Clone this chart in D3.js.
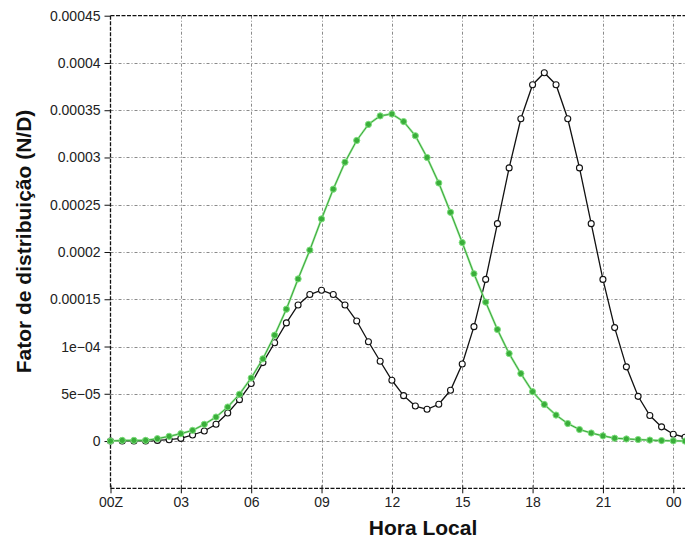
<!DOCTYPE html>
<html lang="pt">
<head>
    <meta charset="UTF-8">
    <title>Fator de distribuição</title>
    <script src="https://d3js.org/d3.v7.min.js"></script>
    <style>
        body { margin: 0; background: #fff; }
        svg { display: block; }
    </style>
</head>
<body>
    <div id="chart-container"></div>

    <script>
        // values in units of 1e-5
        const horas = [0, 0.5, 1, 1.5, 2, 2.5, 3, 3.5, 4, 4.5, 5, 5.5, 6, 6.5, 7, 7.5, 8, 8.5, 9, 9.5,
            10, 10.5, 11, 11.5, 12, 12.5, 13, 13.5, 14, 14.5, 15, 15.5, 16, 16.5, 17, 17.5, 18, 18.5, 19, 19.5,
            20, 20.5, 21, 21.5, 22, 22.5, 23, 23.5, 24, 24.5];
        const serieBranca = [0, 0, 0, 0, 0.07, 0.14, 0.28, 0.64, 1.06, 1.77, 2.97, 4.38, 6.08, 8.3, 10.4, 12.5, 14.4, 15.5, 15.96, 15.5,
            14.4, 12.7, 10.5, 8.44, 6.43, 4.8, 3.7, 3.36, 3.89, 5.37, 8.15, 12.1, 17.1, 23.0, 28.9, 34.1, 37.7, 38.97, 37.7, 34.1,
            28.9, 23.0, 17.1, 12.0, 7.85, 4.73, 2.7, 1.5, 0.72, 0.4];
        const serieVerde = [0, 0.07, 0.07, 0.07, 0.25, 0.5, 0.78, 1.13, 1.77, 2.54, 3.6, 4.95, 6.67, 8.7, 11.2, 13.95, 17.15, 20.2, 23.5, 26.65,
            29.5, 31.8, 33.5, 34.4, 34.6, 33.8, 32.3, 30.0, 27.3, 24.2, 21.0, 17.7, 14.7, 11.8, 9.25, 7.14, 5.22, 3.87, 2.75, 1.85,
            1.22, 0.85, 0.55, 0.3, 0.22, 0.16, 0.1, 0.05, 0.02, 0];
        const xTicks = [0, 3, 6, 9, 12, 15, 18, 21, 24];
        const xTickLabels = ["00Z", "03", "06", "09", "12", "15", "18", "21", "00"];
        const yTicks = [0, 5, 10, 15, 20, 25, 30, 35, 40, 45];
        const yTickLabels = ["0", "5e\u221205", "1e\u221204", "0.00015", "0.0002", "0.00025", "0.0003", "0.00035", "0.0004", "0.00045"];

        const W = 685, H = 544;
        const pl = 110.5, pr = 685, pt = 15.7, pb = 488.3;

        const svg = d3.select("#chart-container")
            .append("svg")
            .attr("width", W)
            .attr("height", H);

        const x = d3.scaleLinear()
            .domain([0, 24.5])
            .range([pl, pr]);

        const y = d3.scaleLinear()
            .domain([-5, 45])
            .range([pb, pt]);

        // grid
        const grid = svg.append("g")
            .attr("stroke", "#8a8a8a")
            .attr("stroke-width", 1)
            .attr("stroke-dasharray", "3,2,1,2");
        grid.selectAll(".vg")
            .data(xTicks.slice(1))
            .enter().append("line")
            .attr("x1", d => Math.round(x(d)) + 0.5)
            .attr("x2", d => Math.round(x(d)) + 0.5)
            .attr("y1", pt)
            .attr("y2", pb);
        grid.selectAll(".hg")
            .data(yTicks.slice(0, -1))
            .enter().append("line")
            .attr("x1", pl)
            .attr("x2", pr)
            .attr("y1", d => Math.round(y(d)) + 0.5)
            .attr("y2", d => Math.round(y(d)) + 0.5);

        // frame (dashed)
        const frame = svg.append("g")
            .attr("stroke", "#111")
            .attr("stroke-width", 1.3)
            .attr("stroke-dasharray", "4,1.5");
        frame.append("line").attr("x1", pl).attr("x2", pl).attr("y1", pt).attr("y2", pb);
        frame.append("line").attr("x1", pl).attr("x2", pr).attr("y1", pb).attr("y2", pb);
        frame.append("line").attr("x1", pl).attr("x2", pr).attr("y1", pt).attr("y2", pt);

        // y axis
        const yAxis = svg.append("g")
            .attr("transform", "translate(" + pl + ",0)")
            .call(d3.axisLeft(y)
                .tickValues(yTicks)
                .tickSize(6)
                .tickPadding(4)
                .tickFormat((d, i) => yTickLabels[i]));
        yAxis.select(".domain").remove();
        yAxis.selectAll("text")
            .style("font-family", "'Liberation Sans', Arial, sans-serif")
            .style("font-size", "14px")
            .attr("fill", "#222");
        yAxis.selectAll("line").attr("stroke", "#111");

        // x axis
        const xAxis = svg.append("g")
            .attr("transform", "translate(0," + pb + ")")
            .call(d3.axisBottom(x)
                .tickValues(xTicks)
                .tickSize(5)
                .tickPadding(4)
                .tickFormat((d, i) => xTickLabels[i]));
        xAxis.select(".domain").remove();
        xAxis.selectAll("text")
            .style("font-family", "'Liberation Sans', Arial, sans-serif")
            .style("font-size", "14px")
            .attr("fill", "#222");
        xAxis.selectAll("line").attr("stroke", "#111").attr("y1", -3);

        // series
        const line = d3.line()
            .x((d, i) => x(horas[i]))
            .y(d => y(d));

        svg.append("path")
            .datum(serieBranca)
            .attr("fill", "none")
            .attr("stroke", "#111")
            .attr("stroke-width", 1.3)
            .attr("d", line);
        svg.selectAll(".pb")
            .data(serieBranca)
            .enter().append("circle")
            .attr("cx", (d, i) => x(horas[i]))
            .attr("cy", d => y(d))
            .attr("r", 3)
            .attr("fill", "#fff")
            .attr("stroke", "#111")
            .attr("stroke-width", 1.1);

        svg.append("path")
            .datum(serieVerde)
            .attr("fill", "none")
            .attr("stroke", "#9ae69a")
            .attr("stroke-width", 2.2)
            .attr("d", line);
        svg.append("path")
            .datum(serieVerde)
            .attr("fill", "none")
            .attr("stroke", "#2f9f2f")
            .attr("stroke-width", 0.9)
            .attr("d", line);
        svg.selectAll(".pv")
            .data(serieVerde)
            .enter().append("circle")
            .attr("cx", (d, i) => x(horas[i]))
            .attr("cy", d => y(d))
            .attr("r", 3.1)
            .attr("fill", "#3aae3a")
            .attr("stroke", "#7ee07e")
            .attr("stroke-width", 1);

        // titles
        svg.append("text")
            .attr("x", 423)
            .attr("y", 535)
            .attr("text-anchor", "middle")
            .style("font-family", "'Liberation Sans', Arial, sans-serif")
            .style("font-weight", "bold")
            .style("font-size", "21px")
            .attr("fill", "#111")
            .text("Hora Local");

        svg.append("text")
            .attr("transform", "translate(31,241.5) rotate(-90)")
            .attr("text-anchor", "middle")
            .style("font-family", "'Liberation Sans', Arial, sans-serif")
            .style("font-weight", "bold")
            .style("font-size", "21px")
            .attr("fill", "#111")
            .text("Fator de distribuição (N/D)");
    </script>
</body>
</html>
